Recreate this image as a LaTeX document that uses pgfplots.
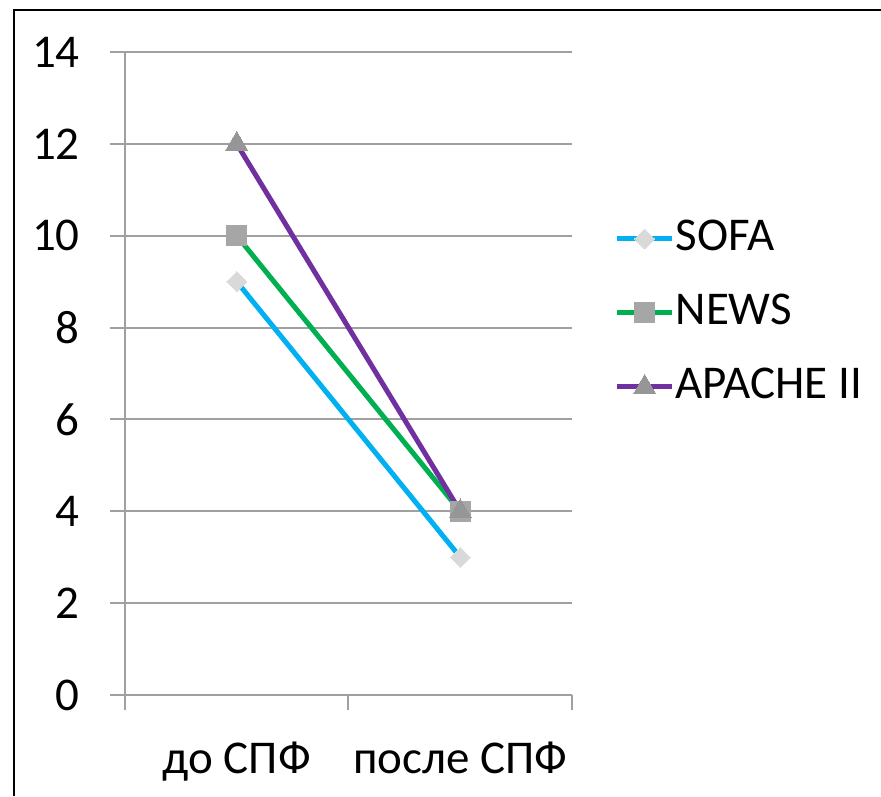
\documentclass[border=0pt]{standalone}
\usepackage{fontspec}
\setmainfont{Carlito}
\usepackage{pgfplots}
\pgfplotsset{compat=1.18}
\definecolor{cSofa}{HTML}{00B0F0}
\definecolor{cNews}{HTML}{00B050}
\definecolor{cApache}{HTML}{7030A0}
\definecolor{mSofa}{HTML}{D9D9D9}
\definecolor{mNews}{HTML}{A6A6A6}
\definecolor{mApache}{HTML}{969696}
\definecolor{gridc}{HTML}{A0A0A0}
\begin{document}
\begin{tikzpicture}[x=1pt,y=1pt]
\useasboundingbox (-125,-101) rectangle (756,695);
\draw[black, line width=2.5pt] (-111,-101) -- (-111,685) -- (756,685);
\begin{axis}[
  at={(0,0)}, anchor=south west,
  scale only axis, width=447pt, height=643pt,
  xmin=-0.5, xmax=1.5, ymin=0, ymax=14,
  axis x line=bottom, axis y line=left,
  axis line style={gridc, line width=2pt, -},
  every axis plot/.append style={line width=5pt},
  font=\fontsize{47}{56}\selectfont,
  /pgf/number format/assume math mode=true,
  ytick={0,2,...,14},
  ymajorgrids, grid style={gridc, line width=2pt},
  major tick length=15pt,
  tick align=outside,
  tick style={gridc, line width=2pt},
  xtick={-0.5,0.5,1.5}, xticklabels={},
  extra x ticks={0,1},
  extra x tick labels={до СПФ, после СПФ},
  extra x tick style={major tick length=0pt, xticklabel style={yshift=-43pt}},
  yticklabel style={anchor=east, inner sep=0pt, xshift=-30pt},
  clip=false,
  legend style={draw=none, fill=none, at={(1.095,0.598)}, anchor=west, inner sep=0pt,
    row sep=45pt, nodes={inner sep=0pt, text height=29pt, text depth=0pt, anchor=base west}, font=\fontsize{47}{56}\selectfont},
  legend cell align=left,
  legend image code/.code={\draw[mark repeat=2,mark phase=2,#1] plot coordinates {(0pt,12pt) (27.5pt,12pt) (55pt,12pt)};},
]
\addplot[cSofa, mark=square*, mark size=7pt, mark options={fill=mSofa, draw=mSofa, rotate=45, line width=0pt}] coordinates {(0,9) (1,3)};
\addlegendentry{\hspace{1pt}SOFA}
\addplot[cNews, mark=square*, mark size=10pt, mark options={fill=mNews, draw=mNews, line width=0pt}] coordinates {(0,10) (1,4)};
\addlegendentry{\hspace{1pt}NEWS}
\addplot[cApache, mark=triangle*, mark size=12.5pt, mark options={fill=mApache, draw=mApache, line width=0pt}] coordinates {(0,12) (1,4)};
\addlegendentry{\hspace{1pt}APACHE II}
\end{axis}
\end{tikzpicture}
\end{document}
